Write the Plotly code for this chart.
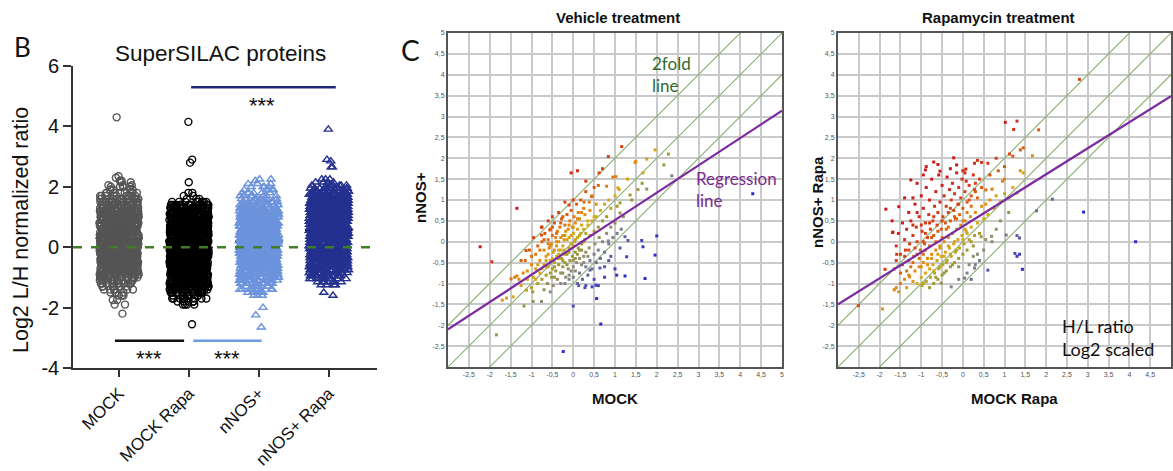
import numpy as np
import plotly.graph_objects as go

W, H = 1173, 471

# ---------------- Panel B data (log2 L/H values and how many proteins at each value) ----------------
categories = ["MOCK", "MOCK Rapa", "nNOS+", "nNOS+ Rapa"]

mock_levels = [4.3, 2.35, 2.3, 2.2, 2.15, 2.05, 2.0, 1.9, 1.8, 1.7, 1.6, 1.5, 1.4, 1.3, 1.2, 1.1, 1.0, 0.9, 0.8,
               0.7, 0.6, 0.5, 0.4, 0.3, 0.2, 0.1, 0.0, -0.1, -0.2, -0.3, -0.4, -0.5, -0.6, -0.7, -0.8, -0.9,
               -1.0, -1.1, -1.2, -1.3, -1.4, -1.5, -1.6, -1.75, -1.9, -2.2]
mock_counts = [1, 1, 1, 2, 2, 3, 4, 5, 8, 10, 14, 18, 22, 26, 30, 32, 34, 36, 38,
               40, 40, 42, 42, 42, 42, 42, 42, 40, 40, 38, 36, 34, 32, 30, 26, 22,
               18, 14, 10, 7, 6, 3, 3, 2, 2, 1]

mockrapa_levels = [4.15, 2.9, 2.8, 2.15, 1.8, 1.7, 1.6, 1.5, 1.4, 1.3, 1.2, 1.1, 1.0, 0.9, 0.8, 0.7, 0.6, 0.5,
                   0.4, 0.3, 0.2, 0.1, 0.0, -0.1, -0.2, -0.3, -0.4, -0.5, -0.6, -0.7, -0.8, -0.9, -1.0,
                   -1.1, -1.2, -1.3, -1.4, -1.5, -1.6, -1.7, -1.8, -1.9, -2.55]
mockrapa_counts = [1, 1, 1, 1, 2, 2, 3, 10, 22, 28, 34, 38, 40, 42, 44, 46, 46, 48,
                   48, 48, 48, 48, 48, 48, 48, 46, 46, 44, 44, 42, 40, 38, 36,
                   32, 28, 24, 18, 14, 10, 8, 5, 4, 1]

nnos_levels = [2.25, 2.2, 2.1, 2.0, 1.9, 1.8, 1.7, 1.6, 1.5, 1.4, 1.3, 1.2, 1.1, 1.0, 0.9, 0.8, 0.7, 0.6, 0.5,
               0.4, 0.3, 0.2, 0.1, 0.0, -0.1, -0.2, -0.3, -0.4, -0.5, -0.6, -0.7, -0.8, -0.9, -1.0, -1.1,
               -1.2, -1.3, -1.4, -1.5, -1.6, -2.0, -2.25, -2.65]
nnos_counts = [2, 1, 3, 4, 5, 6, 8, 10, 14, 18, 22, 26, 30, 32, 34, 36, 38, 40, 40,
               40, 40, 40, 40, 40, 40, 38, 38, 36, 34, 32, 30, 28, 24, 20, 16,
               12, 9, 7, 6, 3, 1, 1, 1]

nnosrapa_levels = [3.9, 2.9, 2.85, 2.65, 2.25, 2.15, 2.05, 1.95, 1.85, 1.75, 1.65, 1.55, 1.45, 1.35, 1.25,
                   1.15, 1.05, 0.95, 0.85, 0.75, 0.65, 0.55, 0.45, 0.35, 0.25, 0.15, 0.05, -0.05, -0.15,
                   -0.25, -0.35, -0.45, -0.55, -0.65, -0.75, -0.85, -0.95, -1.05, -1.15, -1.25, -1.5, -1.6]
nnosrapa_counts = [1, 1, 1, 2, 3, 4, 8, 12, 18, 24, 30, 34, 38, 40, 42,
                   44, 44, 44, 44, 44, 44, 44, 44, 44, 44, 42, 42, 40, 38,
                   36, 34, 32, 30, 26, 22, 18, 14, 10, 7, 4, 1, 1]

# significance bars: (start, end) in category units and level; star label centre
sig_bars = [(-0.06, 0.93, -3.1), (1.06, 2.04, -3.1), (1.03, 3.1, 5.3)]
sig_star_x = [0.43, 1.55, 2.04]
sig_colors = ["#111111", "#6c9be0", "#1f2a78"]

# ---------------- Panel C data (log2 H/L ratios) ----------------
veh_x = [-0.9, -0.85, -0.8, -0.75, -0.7, -0.68, -0.65, -0.6, -0.58, -0.55, -0.52, -0.5, -0.48, -0.45, -0.42, -0.4,
         -0.38, -0.35, -0.32, -0.3, -0.28, -0.25, -0.22, -0.2, -0.18, -0.15, -0.12, -0.1, -0.08, -0.05, -0.02, 0.0,
         0.02, 0.05, 0.08, 0.1, 0.12, 0.15, 0.18, 0.2, 0.25, 0.28, 0.3, 0.35, 0.38, 0.4, 0.45, 0.5, 0.55, 0.6,
         -1.0, -1.05, -1.1, -1.2, -1.25, -1.3, -0.95, -0.75, -0.6, -0.35, -0.2, 0.0, -0.5,
         -1.0, -0.95, -0.9, -0.85, -0.8, -0.75, -0.7, -0.65, -0.62, -0.6, -0.55, -0.52, -0.5, -0.48, -0.45, -0.42,
         -0.4, -0.38, -0.35, -0.3, -0.28, -0.25, -0.22, -0.2, -0.18, -0.15, -0.12, -0.1, -0.08, -0.05, -0.02, 0.0,
         0.03, 0.05, 0.08, 0.1, 0.12, 0.15, 0.18, 0.2, 0.25, 0.28, 0.3, 0.35, 0.4, 0.45, 0.5, 0.55, 0.6, 0.65,
         0.7, 0.75, 0.8, 0.85, 0.9, 1.0, 1.05, 1.1, -0.55, -0.7, -0.3,
         -0.2, -0.1, 0.0, 0.05, 0.1, 0.15, 0.2, 0.22, 0.25, 0.3, 0.35, 0.38, 0.4, 0.45, 0.5, 0.52, 0.55, 0.6, 0.62,
         0.65, 0.7, 0.75, 0.8, 0.85, 0.9, 0.95, 1.0, 1.05, 0.3, 0.13, 0.28, 0.45, 0.5, 0.75, 0.9, 1.2, 1.15,
         0.54, 0.56, 0.66, 0.0, -0.24, 1.04, 1.24, 1.72, 1.96, 1.67, 1.64, 1.31, 1.28, 1.12, 1.0, 0.85, 0.64, 0.4,
         2.0, 1.24, 4.3, 0.75, 0.6,
         0.84, 1.16, 1.96, 2.28, 1.48, 1.5, 1.76, 2.17, 0.62, 1.02, 1.67, 2.36, 0.5, 0.8, 1.07, 1.65, 1.76, 0.26,
         -0.1, 0.44, 1.12, 1.36, -0.25, -0.76, -0.56, 1.12, 0.84, -1.35, 1.3, 1.4, 0.95, 0.3, 0.1, -0.05, 0.7, 1.55,
         -2.23, -1.95, -1.84, -1.7, -1.49, -1.4, -1.35, -1.18, -1.44, -1.13, -1.12, -0.96, -0.76, -0.97, -0.76,
         -1.15, -1.0, -1.25, -1.6, -1.1,
         -0.6, -0.55, -0.5, -0.45, -0.4, -0.35, -0.3, -0.25, -0.2, -0.15, -0.1, -0.05, 0.0, 0.05, 0.1, 0.15, 0.2,
         0.25, 0.3, -0.65, -0.55, -0.45, -0.35, -0.25, -0.15, -0.05, 0.05, 0.15, 0.25, 0.35, -0.8, -0.7, -0.6,
         -0.5, -0.4, -0.3, -0.2, -0.1, 0.0, 0.1, 0.2, -0.9, -0.85, -0.75, -0.65, -0.45, -0.35, -0.25, -0.1, 0.0]
veh_y = [-0.3, -0.1, -0.45, 0.0, -0.2, 0.2, -0.35, 0.05, -0.15, 0.3, -0.05, 0.15, -0.25, 0.45, 0.1, -0.1,
         0.25, 0.0, 0.35, -0.2, 0.55, 0.15, 0.05, 0.4, 0.25, 0.65, 0.3, 0.1, 0.5, 0.75, 0.35, 0.2,
         0.6, 0.45, 0.9, 0.3, 0.7, 0.55, 1.0, 0.4, 0.8, 0.65, 1.2, 0.5, 0.95, 0.75, 1.1, 0.6, 0.9, 1.35,
         -0.55, -0.2, -0.7, -0.75, -0.45, -0.9, 0.1, 0.35, 0.5, 0.7, 0.95, 1.0, 0.6,
         -1.1, -0.85, -0.65, -1.0, -0.75, -0.9, -0.55, -0.8, -1.0, -0.6, -0.45, -0.85, -0.65, -1.05, -0.5, -0.7,
         -0.35, -0.9, -0.55, -0.75, -0.4, -0.6, -0.2, -0.5, -0.85, -0.3, -0.65, -0.15, -0.45, -0.05, -0.35, -0.6,
         0.0, -0.25, -0.5, 0.1, -0.15, -0.4, 0.2, -0.05, 0.3, 0.05, -0.25, 0.4, 0.15, 0.5, 0.25, 0.6, 0.35, 0.75,
         0.5, 0.9, 0.6, 1.0, 0.8, 1.1, 0.85, 1.25, -1.2, -1.15, -1.0,
         -1.0, -0.9, -0.85, -0.7, -1.0, -0.75, -0.55, -0.9, -0.35, -0.6, -0.8, -0.15, -0.45, -0.65, -0.3, -0.05, -0.5, -0.2, 0.1,
         -0.4, 0.0, -0.25, 0.2, -0.05, 0.35, 0.1, 0.45, 0.2, -1.05, -1.05, -1.1, -1.08, -0.9, -0.6, -0.35, 0.6, 0.3,
         -1.04, -1.36, -1.97, -1.54, -2.63, -0.8, -0.82, -0.88, -0.32, -0.12, 0.03, 0.03, -0.36, -0.15, -0.65, -0.45, -0.63, -0.68,
         0.14, 0.12, 1.15, -0.85, -1.05,
         2.04, 2.28, 2.2, 2.1, 1.9, 1.92, 1.98, 1.84, 1.65, 1.56, 1.65, 1.58, 1.3, 1.33, 1.29, 1.4, 1.26, 0.95,
         0.88, 1.08, 0.93, 1.12, 0.6, 0.35, 0.28, 0.69, 0.02, 0.8, 1.5, 1.0, 1.55, 1.45, 1.7, 1.65, 1.75, 1.25,
         -0.12, -0.48, -2.23, -1.4, -0.89, -0.85, -0.82, -1.54, -1.32, -0.21, -1.16, -1.43, -1.43, -1.2, 0.16,
         -0.45, -0.35, -1.05, -1.35, -0.9,
         -0.3, -0.1, -0.4, -0.2, 0.0, -0.3, 0.1, -0.1, -0.3, 0.05, -0.25, 0.15, -0.1, 0.05, -0.3, 0.15, -0.2,
         0.0, 0.2, -0.6, -0.75, -0.85, -0.4, -0.75, -0.55, -0.7, -0.4, -0.2, -0.5, -0.35, -0.2, 0.05, -0.05,
         0.35, 0.2, 0.45, 0.15, 0.4, 0.35, 0.55, 0.7, -0.9, -0.55, -0.65, -0.45, -0.6, -0.2, -0.45, -0.8, -0.45]

rapa_x = [-1.6, -1.55, -1.5, -1.45, -1.4, -1.38, -1.35, -1.3, -1.28, -1.25, -1.2, -1.18, -1.15, -1.12, -1.1, -1.05,
          -1.02, -1.0, -0.98, -0.95, -0.92, -0.9, -0.88, -0.85, -0.82, -0.8, -0.78, -0.75, -0.72, -0.7, -0.68, -0.65,
          -0.62, -0.6, -0.58, -0.55, -0.52, -0.5, -0.48, -0.45, -0.42, -0.4, -0.38, -0.35, -0.32, -0.3, -0.28, -0.25,
          -0.22, -0.2, -0.18, -0.15, -0.12, -0.1, -0.08, -0.05, -0.02, 0.0, 0.05, 0.08, 0.1, 0.15, 0.2, 0.25, 0.28,
          0.3, 0.35, 0.4, 0.45, -1.25, -1.3, -1.45, -1.2, -1.05, -0.95, -1.65, -1.5, -1.35, -1.6, -1.1, -0.95, -0.6,
          -0.3, 0.0, -1.4, -1.7,
          1.02, 1.3, 1.22, 1.67, 1.38, 1.45, 1.12, 1.2, -0.7, -0.9, -0.88, -0.22, -0.15, -0.55, 0.28, 0.35, 0.45, 0.07,
          0.05, 0.6, 0.8, -1.25, -1.85, -1.54, -1.68, -1.2, 0.55, 0.7, 0.95, 1.0, 1.38, 1.45, 1.3, 2.8, 1.82, 0.65,
          0.85, 1.0,
          -1.6, -1.5, -1.4, -1.35, -1.3, -1.2, -1.15, -1.1, -1.05, -1.0, -0.98, -0.95, -0.9, -0.88, -0.85, -0.8,
          -0.78, -0.75, -0.72, -0.7, -0.68, -0.65, -0.62, -0.6, -0.58, -0.55, -0.52, -0.5, -0.48, -0.45, -0.42, -0.4,
          -0.38, -0.35, -0.32, -0.3, -0.28, -0.25, -0.22, -0.2, -0.18, -0.15, -0.12, -0.1, -0.08, -0.05, -0.02, 0.0,
          0.03, 0.05, 0.08, 0.1, 0.15, 0.18, 0.2, 0.25, 0.28, 0.3, 0.35, 0.4, 0.45, 0.5, 0.55, 0.6, 0.65, 0.75, 0.8,
          0.9, 1.0, 1.1, 1.2, -0.8, -0.95, -0.52, -0.28, -1.28, -1.65, -1.54, -1.93, -2.51, -1.87, -1.59, -1.69,
          0.04, 0.2, 0.28, 0.3, 0.6, 0.44, 0.69, 0.7, 0.35, 0.15, 0.5, 0.4, 0.55, 0.1, -0.1, 0.25, 1.04, 1.77, 2.15,
          0.8, 0.9, 1.1,
          1.36, 1.3, 1.36, 1.25, 1.3, 1.43, 2.9, 4.15,
          -1.1, -1.0, -0.9, -0.85, -0.8, -0.75, -0.7, -0.65, -0.6, -0.55, -0.5, -0.45, -0.4, -0.35, -0.3, -0.25,
          -0.2, -0.15, -0.1, 0.0, 0.1, 0.2, -1.3, -1.2, -1.1, -1.0, -0.9, -0.8, -0.7, -0.6, -0.5, -0.4, -0.3, -0.2,
          -0.1, 0.0, 0.1, 0.2, -1.4, -1.15, -0.95, -0.75, -0.55, -0.35, -0.15, 0.05, 0.15, 0.3, -0.65, -0.45]
rapa_y = [-0.1, 0.2, -0.3, 0.45, 0.05, -0.2, 0.3, 0.7, -0.05, 0.5, 0.15, -0.35, 0.9, 0.35, 0.0, 0.6,
          -0.2, 1.1, 0.25, 0.8, -0.05, 0.45, 1.3, 0.1, 0.65, 1.0, 0.3, 1.5, 0.5, 0.15, 0.85, 1.2,
          0.4, 0.7, 1.6, 0.95, 0.3, 1.35, 0.6, 1.1, 0.45, 0.85, 1.55, 0.7, 1.25, 0.5, 1.0, 1.4,
          0.75, 1.15, 0.55, 1.65, 0.9, 1.3, 0.65, 1.05, 1.5, 0.8, 1.2, 1.45, 0.95, 1.35, 1.1, 1.6, 1.25,
          1.4, 1.05, 1.5, 1.3, -0.6, -0.45, -0.55, -0.5, -0.4, -0.3, -0.65, -0.75, -0.7, -0.45, 1.4, 1.6, 1.85,
          1.75, 1.7, 1.05, 0.5,
          2.86, 2.89, 2.69, 2.06, 2.2, 2.25, 2.1, 2.05, 1.91, 1.72, 1.8, 2.01, 1.84, 1.69, 1.88, 1.95, 1.9, 1.74,
          1.65, 1.88, 2.0, 1.48, 0.78, 0.84, 0.23, 1.05, 1.24, 1.26, 1.45, 1.5, 1.7, 1.65, 1.17, 3.89, 2.68, 1.6,
          1.7, 1.8,
          -1.1, -1.0, -0.9, -1.1, -0.8, -0.95, -0.7, -1.0, -0.6, -0.85, -1.05, -0.5, -0.75, -0.95, -0.4, -0.65,
          -0.85, -0.3, -0.55, -1.0, -0.75, -0.2, -0.45, -0.9, -0.65, -0.1, -0.35, -0.8, -0.55, 0.0, -0.25, -0.7,
          -0.45, 0.1, -0.15, -0.6, -0.35, 0.2, -0.05, -0.5, -0.25, 0.3, 0.05, -0.4, -0.15, 0.4, 0.15, -0.3,
          -0.05, 0.5, 0.25, -0.2, 0.05, 0.6, 0.35, -0.1, 0.15, 0.7, 0.45, 0.2, 0.85, 0.55, 0.9, 0.65, 1.0, 0.8, 1.1,
          0.95, 1.15, 1.05, 1.3, -1.1, -1.0, -0.99, -1.08, -0.84, -1.15, -1.2, -1.61, -1.53, -0.66, -0.3, 0.22,
          -0.87, -0.9, -0.63, -0.55, -0.68, 0.12, 0.13, 0.0, -0.3, -0.55, -0.2, -0.45, 0.05, -0.75, -0.9, -0.35, 0.16, 0.74, 1.02,
          0.3, 0.5, 0.7,
          0.09, 0.15, -0.3, -0.28, -0.35, -0.66, 0.71, 0.0,
          -0.3, -0.6, -0.2, -0.55, -0.1, -0.4, -0.7, 0.0, -0.3, -0.6, 0.1, -0.35, -0.5, -0.1, -0.3, -0.55,
          0.0, -0.2, -0.6, 0.05, 0.2, 0.0, -0.2, 0.4, 0.7, 0.4, 0.2, 0.45, 0.6, 0.25, 0.5, 0.3, 0.8, 0.6,
          0.9, 0.5, 0.7, 0.85, -0.35, -0.15, 0.0, 0.1, -0.15, 0.35, 0.55, 0.3, 1.0, 1.2, -0.85, -0.75]

# regression fits (slope, intercept) and the 2-fold guide offsets
veh_reg = (0.655, -0.135)
rapa_reg = (0.623, 0.37)
fold_offsets = [1.0, 0.0, -1.0]

c_tick_vals = [-3, -2.5, -2, -1.5, -1, -0.5, 0, 0.5, 1, 1.5, 2, 2.5, 3, 3.5, 4, 4.5, 5]
c_tick_text = ["", "-2,5", "-2", "-1,5", "-1", "-0,5", "0", "0,5", "1", "1,5", "2", "2,5", "3", "3,5", "4", "4,5", "5"]

b_tick_vals = [-4, -2, 0, 2, 4, 6]
b_tick_text = ["-4", "-2", "0", "2", "4", "6"]

# ---------------- figure ----------------
ARIAL = "Liberation Sans, Arial, sans-serif"
CAL = "Lato, Open Sans, sans-serif"

def px(x):
    return x / W

def py(y):
    return 1 - y / H

fig = go.Figure()

groups = [
    (categories[0], mock_levels, mock_counts, "#555555", "circle-open"),
    (categories[1], mockrapa_levels, mockrapa_counts, "#000000", "circle-open"),
    (categories[2], nnos_levels, nnos_counts, "#6c93dc", "triangle-up-open"),
    (categories[3], nnosrapa_levels, nnosrapa_counts, "#25318f", "triangle-up-open"),
]
medians = []
for name, lev, cnt, col, sym in groups:
    vals = np.repeat(np.array(lev, float), np.array(cnt, int))
    medians.append(float(np.median(vals)))
    fig.add_trace(go.Box(
        x=[name] * len(vals), y=vals, name=name,
        boxpoints="all", jitter=1, pointpos=0, width=0.56,
        fillcolor="rgba(0,0,0,0)", line=dict(width=0, color="rgba(0,0,0,0)"),
        whiskerwidth=0,
        marker=dict(symbol=sym, size=7, color=col, line=dict(width=1.4, color=col)),
        showlegend=False, hoverinfo="skip", xaxis="x", yaxis="y"))

# panel C traces
def add_scatter_panel(xs, ys, reg, xa, ya):
    xs = np.array(xs, float)
    ys = np.array(ys, float)
    line_x = np.array([-3.0, 5.0])
    for off in fold_offsets:
        fig.add_trace(go.Scatter(x=line_x, y=line_x + off, mode="lines",
                                 line=dict(color="#86ad6c", width=1.1), showlegend=False,
                                 hoverinfo="skip", xaxis=xa, yaxis=ya))
    fig.add_trace(go.Scatter(
        x=xs, y=ys, mode="markers",
        marker=dict(symbol="square", size=3, color=ys - xs, cmin=-2, cmax=2,
                    colorscale=[[0.0, "#2a2ad0"], [0.2, "#5d5da8"], [0.32, "#8a8a80"],
                                [0.45, "#a59a2a"], [0.52, "#d6ac18"], [0.62, "#e0860e"],
                                [0.75, "#d84512"], [1.0, "#cc1a1a"]],
                    showscale=False, line=dict(width=0)),
        showlegend=False, hoverinfo="skip", xaxis=xa, yaxis=ya))
    slope, icpt = reg
    fig.add_trace(go.Scatter(x=line_x, y=slope * line_x + icpt, mode="lines",
                             line=dict(color="#7b2aa0", width=2.2), showlegend=False,
                             hoverinfo="skip", xaxis=xa, yaxis=ya))

add_scatter_panel(veh_x, veh_y, veh_reg, "x2", "y2")
add_scatter_panel(rapa_x, rapa_y, rapa_reg, "x3", "y3")

c_axis = dict(range=[-3, 5], tickvals=c_tick_vals, ticktext=c_tick_text, showgrid=True,
              gridcolor="#c9c9c9", gridwidth=1.6, showline=True, mirror=True, linecolor="#555555",
              linewidth=2, ticks="", zeroline=False, automargin=False,
              tickfont=dict(size=7, color="#555555", family=ARIAL))

shapes = []
# zero dashed line
shapes.append(dict(type="line", xref="x domain", yref="y", x0=0, x1=1, y0=0, y1=0,
                   line=dict(color="#3d7f22", width=2.5, dash="dash")))
# median lines
for i, m in enumerate(medians):
    shapes.append(dict(type="line", xref="x", yref="y", x0=i - 0.34, x1=i + 0.34, y0=m, y1=m,
                       line=dict(color="#111111", width=1.5), layer="below"))
annotations = []
for (x0, x1, lvl), sx, col in zip(sig_bars, sig_star_x, sig_colors):
    shapes.append(dict(type="line", xref="x", yref="y", x0=x0, x1=x1,
                       y0=lvl, y1=lvl, line=dict(color=col, width=2.5)))
    annotations.append(dict(text="***", x=sx, y=lvl - 0.6, xref="x", yref="y",
                            showarrow=False, font=dict(size=22, family=ARIAL, color="#111111"),
                            xanchor="center", yanchor="middle"))

def ann(text, x, y, size, color="#111111", family=ARIAL, angle=0, xanchor="center", bold=False):
    if bold:
        text = "<b>" + text + "</b>"
    annotations.append(dict(text=text, x=px(x), y=py(y), xref="paper", yref="paper", showarrow=False,
                            font=dict(size=size, color=color, family=family), textangle=angle,
                            xanchor=xanchor, yanchor="middle", align=xanchor if xanchor != "center" else "center"))

ann("B", 22, 47, 26, family=CAL)
ann("SuperSILAC proteins", 220, 54, 22.5)
ann("Log2 L/H normalized ratio", 21, 230, 21.5, angle=-90)
ann("C", 410, 50, 28, family=CAL)
ann("Vehicle treatment", 618, 18, 15, bold=True)
ann("Rapamycin treatment", 998, 18, 15, bold=True)
ann("nNOS+", 420, 198, 15, bold=True, angle=-90)
ann("MOCK", 615, 398, 15, bold=True)
ann("nNOS+ Rapa", 817, 202, 15, bold=True, angle=-90)
ann("MOCK Rapa", 1014, 398, 15, bold=True)
ann("2fold<br>line", 650, 75, 17, color="#2f6a2a", family=CAL, xanchor="left")
ann("Regression<br>line", 694, 189, 17, color="#7b2a8c", family=CAL, xanchor="left")
ann("H/L ratio<br>Log2 scaled", 1060, 337, 18, family=CAL, xanchor="left")

fig.update_layout(
    width=W, height=H, margin=dict(l=0, r=0, t=0, b=0, autoexpand=False),
    paper_bgcolor="white", plot_bgcolor="white",
    font=dict(family=ARIAL, color="#111111"),
    boxmode="overlay",
    xaxis=dict(domain=[px(73), px(377)], type="category", categoryorder="array", categoryarray=categories,
               range=[-0.66, 3.69], showline=True, linecolor="#333333", linewidth=1.6, ticks="outside",
               ticklen=7, tickcolor="#333333", tickwidth=1.5, tickangle=-45, showgrid=False, automargin=False,
               tickfont=dict(size=17, family=ARIAL, color="#111111"), anchor="y"),
    yaxis=dict(domain=[py(368), py(66)], range=[-4, 6], tickvals=b_tick_vals, ticktext=b_tick_text,
               showline=True, linecolor="#333333", linewidth=1.6, ticks="outside", ticklen=8,
               tickcolor="#333333", tickwidth=1.5, showgrid=False, zeroline=False, automargin=False,
               tickfont=dict(size=20, family=ARIAL, color="#111111"), anchor="x"),
    xaxis2=dict(domain=[px(448), px(782)], anchor="y2", **c_axis),
    yaxis2=dict(domain=[py(367), py(33)], anchor="x2", **c_axis),
    xaxis3=dict(domain=[px(838), px(1171)], anchor="y3", **c_axis),
    yaxis3=dict(domain=[py(367), py(33)], anchor="x3", **c_axis),
    shapes=shapes, annotations=annotations,
)

fig.write_html("out.html", config={"displayModeBar": False},
               post_script="document.body.style.margin='0';document.body.style.overflow='hidden';")
